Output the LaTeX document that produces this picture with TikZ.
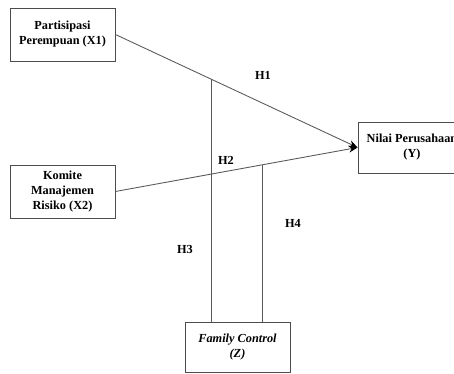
\documentclass[tikz,border=0pt]{standalone}
\usepackage{fontspec}
\setmainfont{Liberation Serif}
\usetikzlibrary{calc, arrows.meta}
\definecolor{linegray}{gray}{0.35}
\definecolor{boxgray}{gray}{0.30}

\begin{document}
\begin{tikzpicture}[x=0.02cm, y=-0.02cm,
		varbox/.style={draw=boxgray, line width=0.5pt, align=center,
			font=\fontsize{7}{8.5}\selectfont\bfseries, inner sep=1pt},
		hlabel/.style={font=\fontsize{7}{8.5}\selectfont\bfseries},
		path/.style={draw=linegray, line width=0.5pt}]
		\useasboundingbox (0,0) rectangle (454,374);
		
		% --- variables ---
		\node[varbox, minimum width=2.1cm, minimum height=1.06cm] (x1) at (62.5,34.5)
			{Partisipasi\\Perempuan (X1)};
		\node[varbox, minimum width=2.1cm, minimum height=1.06cm] (x2) at (62.5,191.5)
			{Komite\\Manajemen\\Risiko (X2)};
		\node[varbox, minimum width=2.16cm, minimum height=1.02cm] (y) at (412,147.5)
			{Nilai Perusahaan\\(Y)};
		\node[varbox, minimum width=2.1cm, minimum height=1.0cm] (z) at (237.5,347)
			{\itshape Family Control\\\itshape (Z)};
		
		% --- direct paths ---
		\draw[path, -{Stealth[length=5pt, width=4pt, color=black]}] (x1.east) -- (y.west);
		\draw[path, -{Stealth[length=5pt, width=4pt, color=black]}] (x2.east) -- (y.west);
		
		% --- moderation paths ---
		\coordinate (m1) at ($(x1.east)!0.395!(y.west)$);
		\coordinate (m2) at ($(x2.east)!0.609!(y.west)$);
		\draw[path] (m1) -- (m1 |- z.north);
		\draw[path] (m2) -- (m2 |- z.north);
		
		% --- hypothesis labels ---
		\node[hlabel] (h1) at (263,75) {H1};
		\node[hlabel] (h2) at (226,160) {H2};
		\node[hlabel] (h3) at (185,249) {H3};
		\node[hlabel] (h4) at (293,223) {H4};
		
	\end{tikzpicture}
\end{document}
